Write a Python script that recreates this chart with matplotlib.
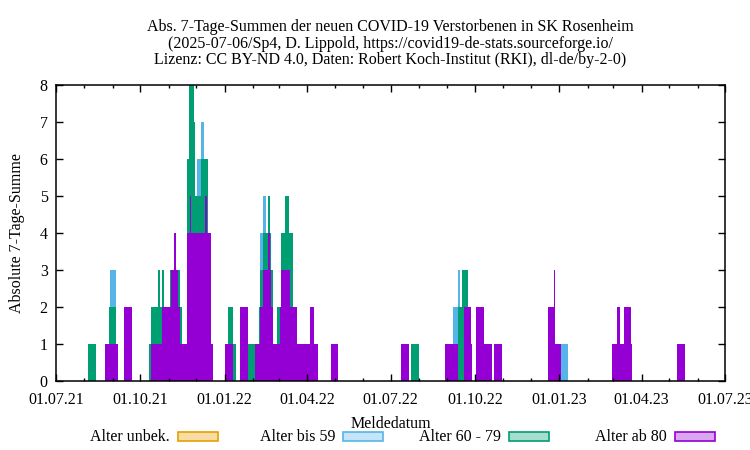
import numpy as np
import pandas as pd
import matplotlib
matplotlib.use('Agg')
import matplotlib.pyplot as plt
import matplotlib.dates as mdates
from matplotlib.patches import Rectangle

plt.rcParams['font.family'] = ['Liberation Serif', 'DejaVu Serif']
plt.rcParams['font.size'] = 11.5

groups = ['Alter unbek.', 'Alter bis 59', 'Alter 60 - 79', 'Alter ab 80']
colors = ['#e69f00', '#56b4e9', '#009e73', '#9400d3']

# 7-Tage-Summen je Altersgruppe: (von, bis exkl., Wert)
unbek = []
bis59 = [
    ('2021-08-29', '2021-09-05', 1), ('2021-12-02', '2021-12-09', 1),
    ('2022-02-09', '2022-02-15', 1), ('2022-09-07', '2022-09-15', 1),
    ('2023-01-03', '2023-01-11', 1),
]
a6079 = [
    ('2021-08-05', '2021-08-14', 1), ('2021-08-28', '2021-09-05', 1),
    ('2021-10-11', '2021-10-20', 1), ('2021-10-20', '2021-10-22', 2),
    ('2021-10-22', '2021-10-27', 1), ('2021-11-02', '2021-11-03', 1),
    ('2021-11-11', '2021-11-15', 1), ('2021-11-21', '2021-11-23', 2),
    ('2021-11-23', '2021-11-24', 4), ('2021-11-24', '2021-11-25', 3),
    ('2021-11-25', '2021-11-29', 4), ('2021-11-29', '2021-11-30', 3),
    ('2021-11-30', '2021-12-06', 1), ('2021-12-06', '2021-12-11', 2),
    ('2021-12-11', '2021-12-13', 1), ('2021-12-13', '2021-12-14', 2),
    ('2022-01-05', '2022-01-13', 1), ('2022-01-26', '2022-02-03', 1),
    ('2022-02-07', '2022-02-23', 1), ('2022-02-27', '2022-03-02', 1),
    ('2022-03-04', '2022-03-08', 1), ('2022-03-08', '2022-03-12', 2),
    ('2022-03-12', '2022-03-13', 1), ('2022-03-13', '2022-03-17', 2),
    ('2022-07-23', '2022-08-01', 1), ('2022-09-13', '2022-09-17', 2),
    ('2022-09-17', '2022-09-19', 3), ('2022-09-19', '2022-09-24', 1),
]
ab80 = [
    ('2021-08-23', '2021-09-07', 1), ('2021-09-13', '2021-09-22', 2),
    ('2021-10-13', '2021-10-25', 1), ('2021-10-25', '2021-11-03', 2),
    ('2021-11-03', '2021-11-07', 3), ('2021-11-07', '2021-11-09', 4),
    ('2021-11-09', '2021-11-11', 3), ('2021-11-11', '2021-11-13', 2),
    ('2021-11-13', '2021-11-21', 1), ('2021-11-21', '2021-11-24', 4),
    ('2021-11-24', '2021-11-25', 5), ('2021-11-25', '2021-12-11', 4),
    ('2021-12-11', '2021-12-13', 5), ('2021-12-13', '2021-12-17', 4),
    ('2021-12-17', '2021-12-19', 1),
    ('2022-01-01', '2022-01-10', 1), ('2022-01-18', '2022-01-26', 2),
    ('2022-02-03', '2022-02-09', 1), ('2022-02-09', '2022-02-12', 2),
    ('2022-02-12', '2022-02-17', 3), ('2022-02-17', '2022-02-19', 4),
    ('2022-02-19', '2022-02-21', 3), ('2022-02-21', '2022-02-23', 2),
    ('2022-02-23', '2022-03-02', 1), ('2022-03-02', '2022-03-04', 2),
    ('2022-03-04', '2022-03-13', 3), ('2022-03-13', '2022-03-21', 2),
    ('2022-03-21', '2022-04-04', 1), ('2022-04-04', '2022-04-09', 2),
    ('2022-04-09', '2022-04-13', 1), ('2022-04-27', '2022-05-05', 1),
    ('2022-07-12', '2022-07-21', 1), ('2022-08-29', '2022-09-13', 1),
    ('2022-09-19', '2022-09-27', 2), ('2022-09-27', '2022-09-28', 1),
    ('2022-10-02', '2022-10-11', 2), ('2022-10-11', '2022-10-20', 1),
    ('2022-10-22', '2022-10-31', 1),
    ('2022-12-20', '2022-12-26', 2), ('2022-12-26', '2022-12-28', 3),
    ('2022-12-28', '2023-01-03', 1),
    ('2023-02-28', '2023-03-05', 1), ('2023-03-05', '2023-03-08', 2),
    ('2023-03-08', '2023-03-13', 1), ('2023-03-13', '2023-03-20', 2),
    ('2023-03-20', '2023-03-21', 1), ('2023-05-10', '2023-05-18', 1),
]

days = pd.date_range('2021-07-01', '2023-06-30', freq='D')


def daily(segs):
    s = np.zeros(len(days))
    for a, b, v in segs:
        s[(days >= a) & (days < b)] = v
    return s


fig = plt.figure(figsize=(7.5, 4.5), dpi=100)
ax = fig.add_axes([56 / 750, 69 / 450, 669 / 750, 296 / 450])

x = mdates.date2num(days)
bottom = np.zeros(len(days))
# von unten nach oben: ab 80, 60-79, bis 59, unbekannt
for segs, col in [(ab80, colors[3]), (a6079, colors[2]), (bis59, colors[1]), (unbek, colors[0])]:
    y = daily(segs)
    ax.bar(x, y, width=1, bottom=bottom, align='edge', color=col, linewidth=0)
    bottom += y

ax.set_xlim(mdates.date2num(pd.Timestamp('2021-07-01')), mdates.date2num(pd.Timestamp('2023-07-01')))
ax.set_ylim(0, 8)
ax.set_yticks(range(9))
ax.xaxis.set_major_locator(mdates.MonthLocator(bymonth=[1, 4, 7, 10]))
ax.xaxis.set_major_formatter(mdates.DateFormatter('%d.%m.%y'))
ax.xaxis.set_minor_locator(mdates.MonthLocator())
ax.tick_params(which='both', direction='in', top=True, right=True, width=1)
ax.tick_params(which='major', length=5)
ax.tick_params(which='minor', length=2.5)
ax.tick_params(axis='x', pad=8)
ax.tick_params(axis='y', pad=6)
for sp in ax.spines.values():
    sp.set_linewidth(1.1)

fig.text(390.5 / 750, 1 - 27 / 450, 'Abs. 7-Tage-Summen der neuen COVID-19 Verstorbenen in SK Rosenheim',
         ha='center', va='center')
fig.text(390.5 / 750, 1 - 44 / 450, '(2025-07-06/Sp4, D. Lippold, https://covid19-de-stats.sourceforge.io/',
         ha='center', va='center')
fig.text(390.5 / 750, 1 - 60 / 450, 'Lizenz: CC BY-ND 4.0, Daten: Robert Koch-Institut (RKI), dl-de/by-2-0)',
         ha='center', va='center')

fig.text(17 / 750, 1 - 233 / 450, 'Absolute 7-Tage-Summe', rotation=90, ha='center', va='center')
fig.text(390.5 / 750, 1 - 424 / 450, 'Meldedatum', ha='center', va='center')

# Legende unten: Text, dann Farbkasten
text_right = [170, 335, 501, 667]
for name, col, xr in zip(groups, colors, text_right):
    fig.text(xr / 750, 1 - 437 / 450, name, ha='right', va='center')
    fig.patches.append(Rectangle(((xr + 8) / 750, 1 - 441 / 450), 40 / 750, 9 / 450,
                                 transform=fig.transFigure, facecolor=col, alpha=0.35,
                                 edgecolor='none'))
    fig.patches.append(Rectangle(((xr + 8) / 750, 1 - 441 / 450), 40 / 750, 9 / 450,
                                 transform=fig.transFigure, facecolor='none',
                                 edgecolor=col, linewidth=1.2))

fig.savefig('out.png', dpi=100)
